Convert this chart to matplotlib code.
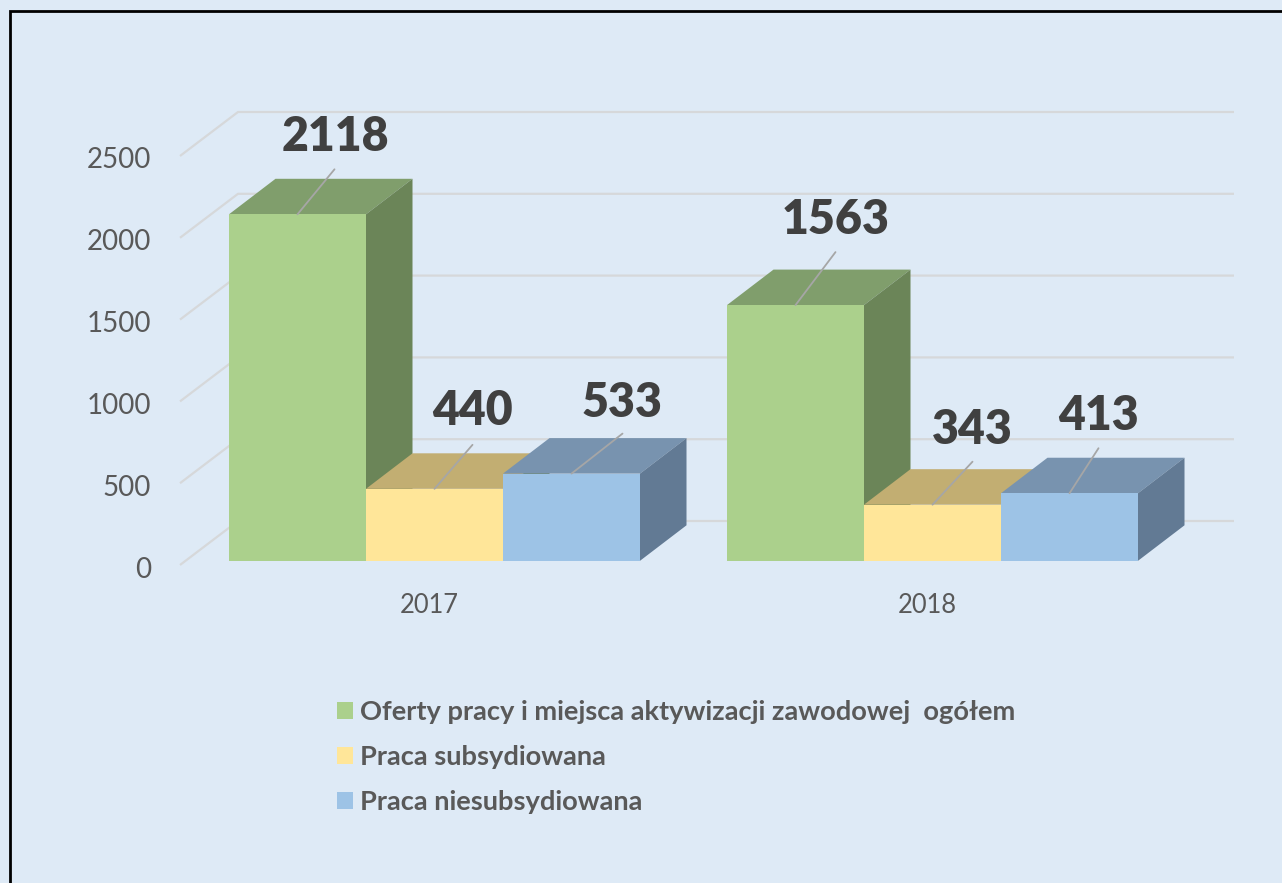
import matplotlib.pyplot as plt
from matplotlib.patches import Patch, Polygon, Rectangle
from matplotlib.transforms import ScaledTranslation

plt.rcParams['font.family'] = ['Lato', 'DejaVu Sans']

years = ['2017', '2018']
series_names = ['Oferty pracy i miejsca aktywizacji zawodowej  ogółem',
                'Praca subsydiowana',
                'Praca niesubsydiowana']
oferty = [2118, 1563]
subsydiowana = [440, 343]
niesubsydiowana = [533, 413]
y_ticks = [0, 500, 1000, 1500, 2000, 2500]

front_colors = ['#ABD08C', '#FFE699', '#9DC3E6']
top_colors = ['#809E6C', '#C2AE72', '#7893AF']
side_colors = ['#6B8558', '#6B8558', '#627A94']
bg = '#DEEAF6'

W, H = 1282, 883
fig = plt.figure(figsize=(W / 100, H / 100), dpi=100, facecolor=bg)

# axes box in pixels, 0 on the y axis sits at py=565 and 2500 at py=156
left, right, bottom, top = 180, 1234, 565, 112
ax = fig.add_axes([left / W, 1 - bottom / H, (right - left) / W, (bottom - top) / H])
px_x = 498          # pixels per category
px_y = 409 / 2500   # pixels per value
ax.set_xlim((left - 429) / px_x, (right - 429) / px_x)
ax.set_ylim(0, (bottom - top) / px_y)
ax.patch.set_alpha(0)
for s in ax.spines.values():
    s.set_visible(False)

bar_w = 137 / px_x
depth_x = 46.5 / px_x
depth_y = 35.5 / px_y
wall_x = 58 / px_x
wall_y = 44 / px_y
floor_x = 5.5 / px_x
floor_y = 4.2 / px_y

# gridlines: side wall and back wall
x0 = ax.get_xlim()[0]
x1 = ax.get_xlim()[1]
for v in y_ticks:
    ax.plot([x0, x0 + wall_x, x1], [v, v + wall_y, v + wall_y], color='#D6D8DA', lw=1.6,
            clip_on=False, zorder=1, solid_capstyle='butt')

# label offsets in pixels from the middle of the front top edge: leader end, text centre
leader = [[(37, 45), (38, 44), (51, 40)], [(40, 53), (40, 43), (29, 45)]]
label = [[(38, 77), (38, 78), (51, 71)], [(40, 85), (40, 75), (29, 77)]]

values = [oferty, subsydiowana, niesubsydiowana]
z = 3
for g in range(len(years)):
    for i, vals in enumerate(values):
        v = vals[g]
        xl = g + floor_x + (i - 1.5) * bar_w
        xr = xl + bar_w
        yb = floor_y
        yt = floor_y + v
        ax.bar(xl, v, width=bar_w, bottom=yb, align='edge', color=front_colors[i], zorder=z + 2)
        ax.add_patch(Polygon([(xl, yt), (xl + depth_x, yt + depth_y), (xr + depth_x, yt + depth_y), (xr, yt)],
                             closed=True, fc=top_colors[i], ec='none', zorder=z))
        ax.add_patch(Polygon([(xr, yb), (xr + depth_x, yb + depth_y), (xr + depth_x, yt + depth_y), (xr, yt)],
                             closed=True, fc=side_colors[i], ec='none', zorder=z + 1))
        z += 3

for g in range(len(years)):
    for i, vals in enumerate(values):
        xc = g + floor_x + (i - 1) * bar_w
        yt = floor_y + vals[g]
        lx, ly = leader[g][i]
        tx, ty = label[g][i]
        ax.annotate('', xy=(xc, yt), xytext=(lx, ly), textcoords='offset pixels', zorder=40,
                    arrowprops=dict(arrowstyle='-', color='#A6A6A6', lw=1.3, shrinkA=0, shrinkB=0))
        ax.annotate(str(vals[g]), xy=(xc, yt), xytext=(tx, ty), textcoords='offset pixels',
                    ha='center', va='center', fontsize=33.5, fontweight='heavy', color='#404040', zorder=41)

ax.set_xticks(range(len(years)), years)
ax.set_yticks(y_ticks, [str(v) for v in y_ticks])
ax.tick_params(axis='x', length=0, pad=20, labelsize=18.4, labelcolor='#595959')
ax.tick_params(axis='y', length=0, pad=21, labelsize=20, labelcolor='#595959')
# y labels sit 2 px lower than their gridline
shift = ScaledTranslation(0, -2 / 100, fig.dpi_scale_trans)
for t in ax.get_yticklabels():
    t.set_transform(t.get_transform() + shift)

handles = [Patch(fc=c, ec='none') for c in front_colors]
fig.legend(handles, series_names, loc='upper left', bbox_to_anchor=(331.6 / W, 1 - 695 / H),
           frameon=False, ncol=1, labelcolor='#595959',
           prop=dict(family='Lato', weight='bold', size=19.6),
           handlelength=0.59, handleheight=0.59, handletextpad=0.26, labelspacing=0.77,
           borderpad=0.2, borderaxespad=0)

# black frame, open at the right and bottom edges of the crop
fig.add_artist(Rectangle((9.8 / W, -0.02), 1.1, 1.02 - 11 / H, transform=fig.transFigure,
                         fill=False, ec='black', lw=2, clip_on=True))

fig.savefig('out.png', dpi=100, facecolor=bg)
